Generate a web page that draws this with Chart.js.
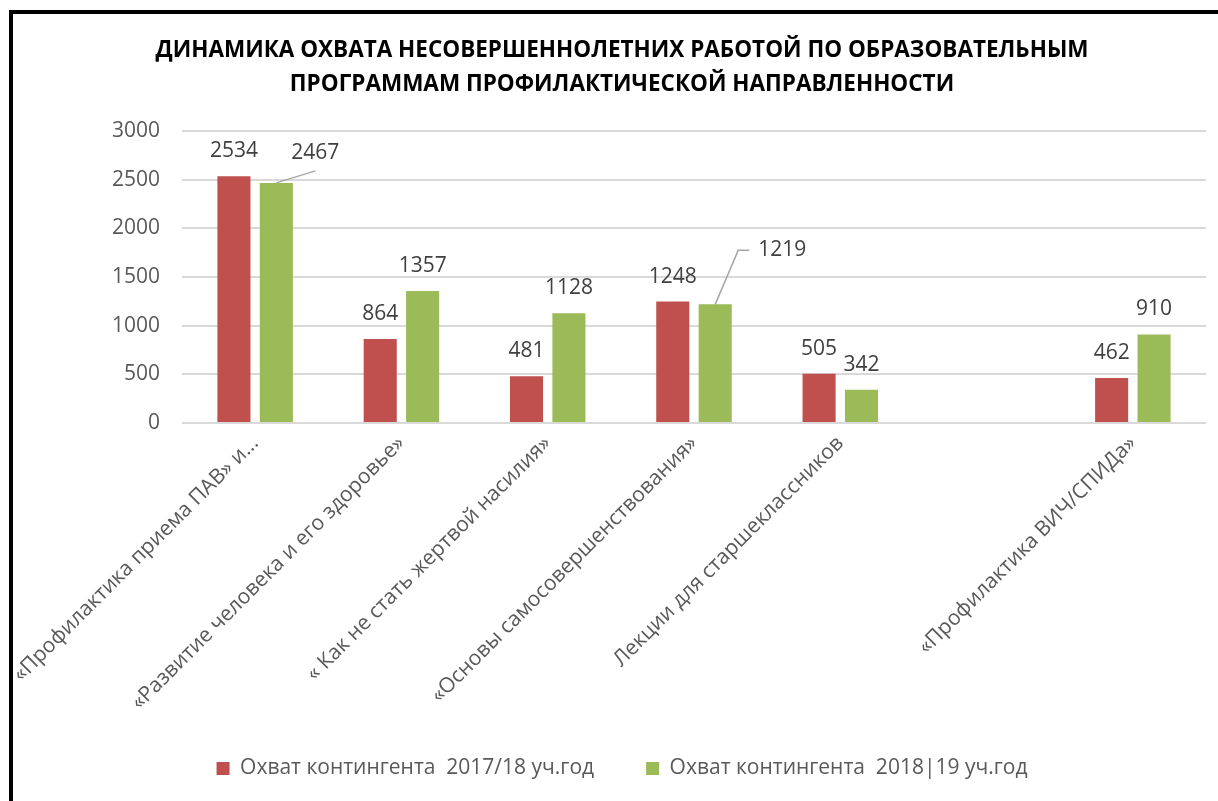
<!DOCTYPE html>
<html lang="ru">
<head>
<meta charset="utf-8">
<title>Динамика охвата несовершеннолетних</title>
<script src="https://cdn.jsdelivr.net/npm/chart.js@4.4.1/dist/chart.umd.min.js"></script>
<style>
    html, body { margin: 0; padding: 0; background: #fff; overflow: hidden; }
    #frame {
        position: absolute; left: 9px; top: 10px;
        width: 1218px; height: 800px;
        border: 4px solid #000;
    }
    #chart { display: block; }
</style>
</head>
<body>
<div id="frame"><canvas id="chart" width="1218" height="787"></canvas></div>
<script>
// Chart data
var categories = [
    "«Профилактика приема ПАВ» и...",
    "«Развитие человека и его здоровье»",
    "« Как не стать жертвой насилия»",
    "«Основы самосовершенствования»",
    "Лекции для старшеклассников",
    "",
    "«Профилактика ВИЧ/СПИДа»"
];
var seriesNames = ["Охват контингента  2017/18 уч.год", "Охват контингента  2018|19 уч.год"];
var values2017 = [2534, 864, 481, 1248, 505, null, 462];
var values2018 = [2467, 1357, 1128, 1219, 342, null, 910];
var yTicks = [0, 500, 1000, 1500, 2000, 2500, 3000];

var FONT = '"Open Sans", sans-serif';

// Draws value labels above bars; a couple of them are pulled aside with a leader line
var valueLabels = {
    id: "valueLabels",
    afterDatasetsDraw: function (chart, args, opts) {
        var ctx = chart.ctx;
        ctx.save();
        ctx.font = opts.size + "px " + FONT;
        ctx.fillStyle = opts.color;
        ctx.textAlign = "center";
        ctx.textBaseline = "middle";
        chart.data.datasets.forEach(function (ds, di) {
            chart.getDatasetMeta(di).data.forEach(function (bar, i) {
                var v = ds.data[i];
                if (v === null || v === undefined) return;
                var x = bar.x, y = bar.y - opts.offset;
                var c = (opts.callouts || []).filter(function (k) {
                    return k.dataset === di && k.index === i;
                })[0];
                if (c) {
                    x += c.dx;
                    y += c.dy;
                    ctx.beginPath();
                    ctx.strokeStyle = "#a6a6a6";
                    ctx.lineWidth = 1.5;
                    ctx.moveTo(bar.x, bar.y);
                    c.line.forEach(function (p) { ctx.lineTo(x + p[0], y + p[1]); });
                    ctx.stroke();
                }
                ctx.fillText(String(v), x, y);
            });
        });
        ctx.restore();
    }
};

// Rotated category labels run down into the legend band; don't clip them to the axis box
var unclipLabels = {
    id: "unclipLabels",
    afterLayout: function (chart) {
        chart.scales.x.bottom = chart.height;
    }
};

new Chart(document.getElementById("chart"), {
    type: "bar",
    data: {
        labels: categories,
        datasets: [
            { label: seriesNames[0], data: values2017, backgroundColor: "#C0504D",
              categoryPercentage: 0.58, barPercentage: 0.78 },
            { label: seriesNames[1], data: values2018, backgroundColor: "#9BBB59",
              categoryPercentage: 0.58, barPercentage: 0.78 }
        ]
    },
    plugins: [valueLabels, unclipLabels],
    options: {
        responsive: false,
        animation: false,
        layout: { padding: { left: 0, right: 0, top: 0, bottom: 12 } },
        scales: {
            x: {
                grid: { display: false },
                border: { display: false },
                ticks: {
                    autoSkip: false, minRotation: 45, maxRotation: 45, padding: 0,
                    color: "#595959", font: { family: FONT, size: 21 }
                },
                afterFit: function (scale) {
                    scale.height = 283;
                    scale.paddingLeft = 0;
                    scale.paddingRight = 0;
                }
            },
            y: {
                min: 0, max: 3000,
                afterBuildTicks: function (scale) {
                    scale.ticks = yTicks.map(function (v) { return { value: v }; });
                },
                grid: { color: "#d9d9d9", lineWidth: 2, drawTicks: false },
                border: { display: false },
                ticks: {
                    padding: 22, color: "#595959", font: { family: FONT, size: 21 },
                    callback: function (v) { return String(v); }
                },
                afterFit: function (scale) { scale.width = 169; }
            },
            // empty right-hand margin so the title and legend stay centred on the frame
            yRight: {
                position: "right",
                grid: { display: false },
                border: { display: false },
                ticks: { display: false },
                afterFit: function (scale) { scale.width = 25; }
            }
        },
        plugins: {
            title: {
                display: true,
                text: [
                    "ДИНАМИКА ОХВАТА НЕСОВЕРШЕННОЛЕТНИХ РАБОТОЙ ПО ОБРАЗОВАТЕЛЬНЫМ",
                    "ПРОГРАММАМ ПРОФИЛАКТИЧЕСКОЙ НАПРАВЛЕННОСТИ"
                ],
                color: "#000",
                font: { family: FONT, size: 22.5, weight: "bold", lineHeight: "34px" },
                padding: { top: 20, bottom: 29 }
            },
            legend: {
                position: "bottom",
                labels: {
                    boxWidth: 13, boxHeight: 13, padding: 52,
                    color: "#595959", font: { family: FONT, size: 21 }
                }
            },
            tooltip: { enabled: false },
            valueLabels: {
                size: 21, color: "#404040", offset: 25,
                callouts: [
                    { dataset: 1, index: 0, dx: 39, dy: -5, line: [[0, 18]] },
                    { dataset: 1, index: 3, dx: 67, dy: -29, line: [[-44, 0], [-33, 0]] }
                ]
            }
        }
    }
});
</script>
</body>
</html>
